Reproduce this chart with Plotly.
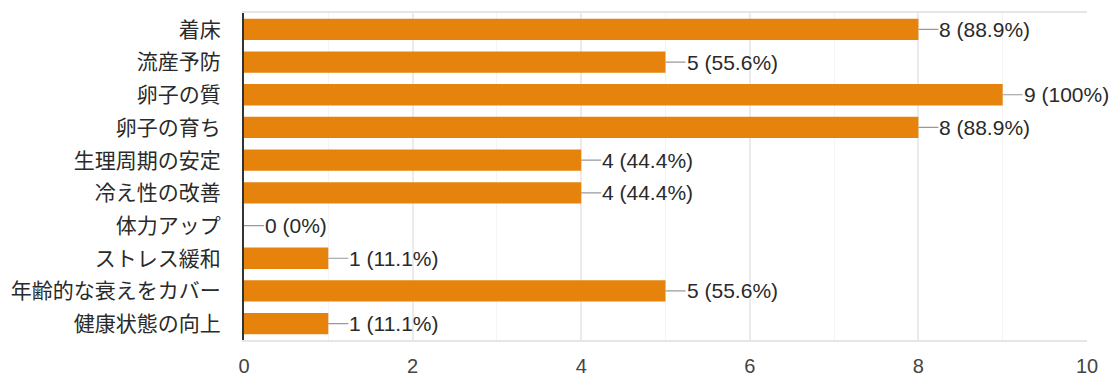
import plotly.graph_objects as go

categories = ["着床", "流産予防", "卵子の質", "卵子の育ち", "生理周期の安定",
              "冷え性の改善", "体力アップ", "ストレス緩和", "年齢的な衰えをカバー", "健康状態の向上"]
counts = [8, 5, 9, 8, 4, 4, 0, 1, 5, 1]
labels = ["8 (88.9%)", "5 (55.6%)", "9 (100%)", "8 (88.9%)", "4 (44.4%)",
          "4 (44.4%)", "0 (0%)", "1 (11.1%)", "5 (55.6%)", "1 (11.1%)"]
x_ticks = [0, 2, 4, 6, 8, 10]

FONT = "Liberation Sans, Arial, Noto Sans CJK JP, sans-serif"

fig = go.Figure()
fig.add_trace(go.Bar(
    x=counts, y=categories, orientation="h",
    marker=dict(color="#E6830D", line=dict(width=0)),
    width=0.65, hoverinfo="skip",
))

for c, v, t in zip(categories, counts, labels):
    fig.add_annotation(
        x=v, y=c, text=t, showarrow=True, arrowhead=0, arrowwidth=1.2,
        arrowcolor="#999999", ax=20, ay=0, xanchor="left", yanchor="middle",
        standoff=0, startstandoff=0, borderpad=0,
        font=dict(family=FONT, size=21, color="#2A2A2A"),
    )

# page body has an 8px margin, so the figure is offset by 8px
fig.update_layout(
    width=1112, height=372,
    margin=dict(l=236, r=33, t=3, b=39),
    paper_bgcolor="white", plot_bgcolor="white",
    showlegend=False,
    font=dict(family=FONT, size=21, color="#2A2A2A"),
)
fig.update_xaxes(
    range=[0, 10], tickvals=x_ticks, ticktext=[str(v) for v in x_ticks],
    showgrid=True, gridcolor="#EBEBEB", gridwidth=1.5,
    minor=dict(dtick=1, showgrid=True, gridcolor="#F4F4F4", gridwidth=1),
    showline=True, mirror=True, linecolor="#E6E6E6", linewidth=2,
    zeroline=False, ticks="", ticklabelstandoff=7,
    tickfont=dict(family=FONT, size=20, color="#444444"), fixedrange=True,
)
fig.update_yaxes(
    autorange="reversed", showgrid=False, zeroline=False,
    showline=True, linecolor="#333333", linewidth=2, ticks="",
    ticklabelstandoff=17,
    tickfont=dict(family=FONT, size=21, color="#2A2A2A"), fixedrange=True,
)

fig.write_html("out.html")
